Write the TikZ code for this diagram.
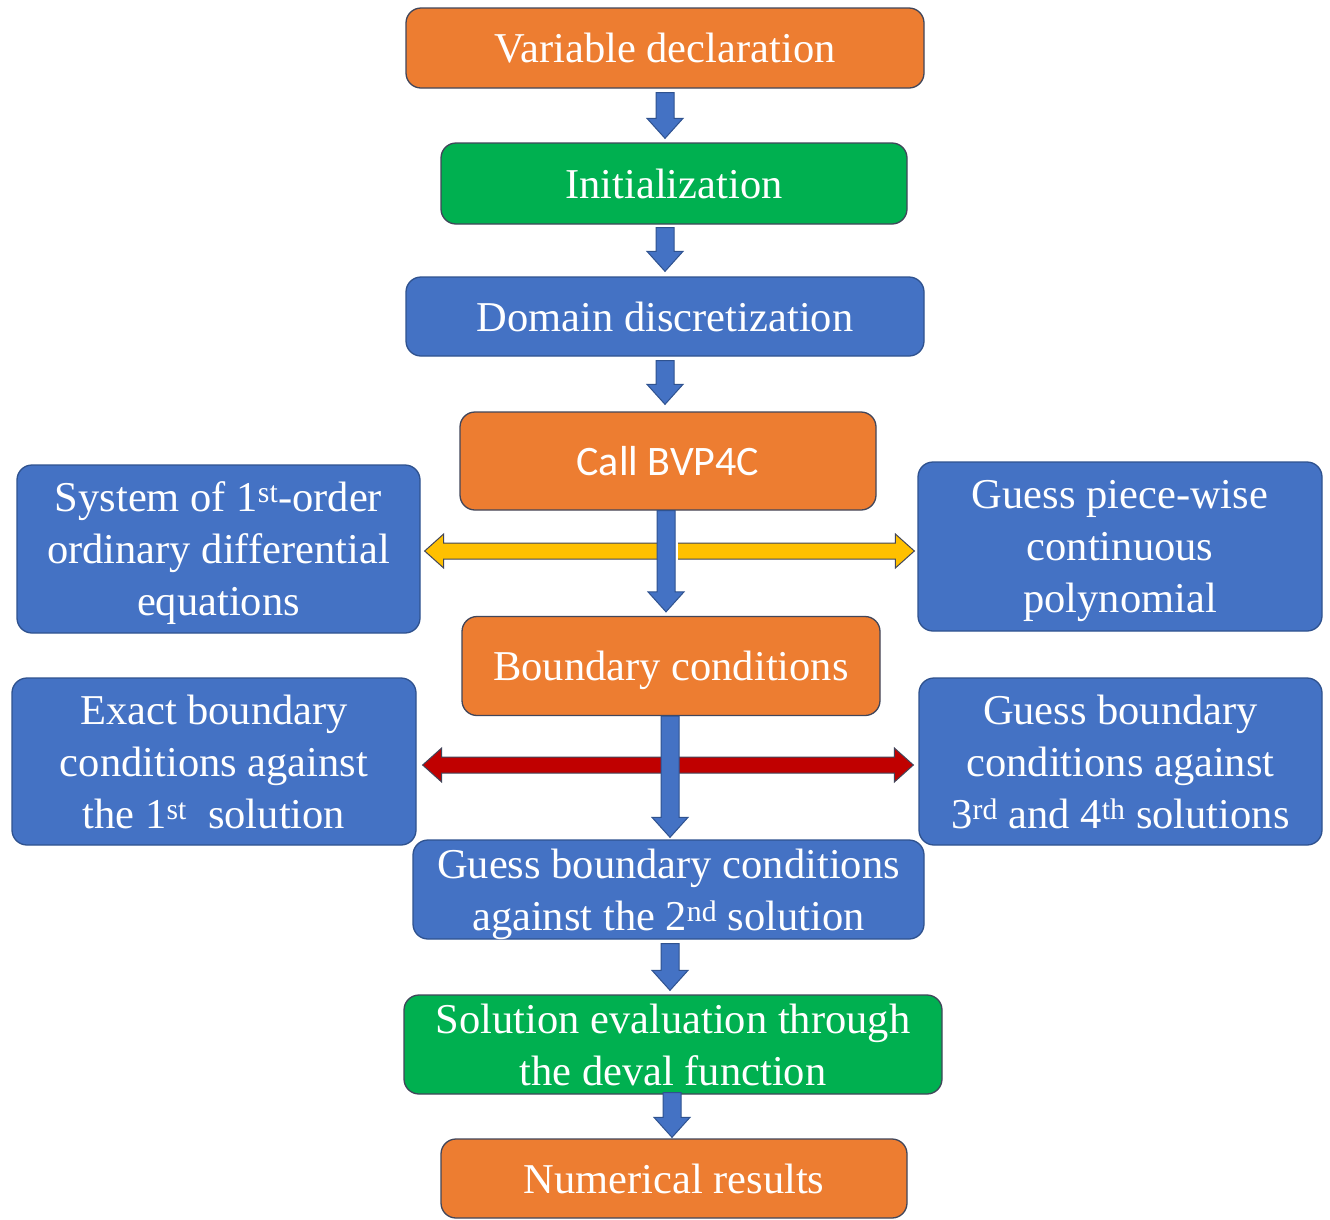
\documentclass[tikz,border=0pt]{standalone}
\usepackage{fontspec}
\setmainfont{Liberation Serif}
\newfontfamily\calibrifont{Carlito}
\usetikzlibrary{calc}
\definecolor{corange}{HTML}{ED7D31}
\definecolor{cgreen}{HTML}{00B050}
\definecolor{cblue}{HTML}{4472C4}
\definecolor{cyellow}{HTML}{FFC000}
\definecolor{cred}{HTML}{C00000}
\definecolor{bordgray}{HTML}{41465A}
\definecolor{bordblue}{HTML}{2F528F}
\tikzset{
  box/.style={rounded corners=15pt, line width=1.3pt, align=center, text=white,
    inner sep=0pt, font=\fontsize{42.5}{52}\selectfont},
  obox/.style={box, fill=corange, draw=bordgray},
  gbox/.style={box, fill=cgreen, draw=bordgray},
  bbox/.style={box, fill=cblue, draw=bordblue},
  blockline/.style={line width=1pt, draw=bordblue, line join=miter},
}
\newcommand\vblockarrow[3]{%
  \filldraw[blockline, fill=#1] let \p1=(#2), \p2=(#3) in
    (\x1-9pt,\y1) -- (\x1+9pt,\y1) -- (\x1+9pt,\y2+20pt) -- (\x1+18pt,\y2+20pt)
    -- (\x1,\y2) -- (\x1-18pt,\y2+20pt) -- (\x1-9pt,\y2+20pt) -- cycle;}
\newcommand\hdblockarrow[3]{%
  \filldraw[blockline, draw=bordgray, fill=#1] let \p1=(#2), \p2=(#3) in
    (\x1,\y1) -- (\x1+19pt,\y1+17pt) -- (\x1+19pt,\y1+8pt) -- (\x2-19pt,\y1+8pt)
    -- (\x2-19pt,\y1+17pt) -- (\x2,\y1) -- (\x2-19pt,\y1-17pt) -- (\x2-19pt,\y1-8pt)
    -- (\x1+19pt,\y1-8pt) -- (\x1+19pt,\y1-17pt) -- cycle;}
\begin{document}
\begin{tikzpicture}[x=1pt,y=1pt]
\useasboundingbox[fill=white] (0,0) rectangle (1330,-1219);

\node[obox, minimum width=518pt, minimum height=80pt] (var) at (665,-48) {Variable declaration};
\node[gbox, minimum width=466pt, minimum height=81pt, text depth=-3pt] (init) at (674,-183.5) {Initialization};
\node[bbox, minimum width=518pt, minimum height=79pt] (domain) at (665,-316.5) {Domain discretization};
\node[obox, minimum width=416pt, minimum height=98pt, font=\calibrifont\fontsize{42}{52}\selectfont] (call) at (668,-461) {Call BVP4C};
\node[bbox, minimum width=403pt, minimum height=168pt, text depth=1pt] (left1) at (218.5,-549)
  {System of 1\textsuperscript{st}-order\\ordinary differential\\equations};
\node[bbox, minimum width=404pt, minimum height=169pt, text depth=-5pt] (right1) at (1120,-546.5)
  {Guess piece-wise\\continuous\\polynomial};
\node[obox, minimum width=418pt, minimum height=99pt, text depth=0pt] (bc) at (671,-666) {Boundary conditions};
\node[bbox, minimum width=404pt, minimum height=167pt, text depth=-3pt] (left2) at (214,-761.5)
  {Exact boundary\\conditions against\\the 1\textsuperscript{st}\ \ solution};
\node[bbox, minimum width=403pt, minimum height=167pt, text depth=-3pt] (right2) at (1120.5,-761.5)
  {Guess boundary\\conditions against\\3\textsuperscript{rd} and 4\textsuperscript{th} solutions};
\node[bbox, minimum width=511pt, minimum height=99pt, text depth=-1pt] (guess2) at (668.5,-889.5)
  {Guess boundary conditions\\against the 2\textsuperscript{nd} solution};
\node[gbox, minimum width=538pt, minimum height=99pt, text depth=-4pt] (sol) at (673,-1044.5)
  {Solution evaluation through\\the deval function};
\node[obox, minimum width=466pt, minimum height=79pt, text depth=-8pt] (num) at (674,-1178.5) {Numerical results};

% vertical flow arrows
\vblockarrow{cblue}{$(var.south)+(0,-4)$}{$(init.north)+(0,4)$}
\vblockarrow{cblue}{$(domain.north|-init.south)+(0,-3)$}{$(domain.north)+(0,5)$}
\vblockarrow{cblue}{$(domain.south)+(0,-4)$}{$(call.north)+(0,7)$}
\vblockarrow{cblue}{$(guess2.south)+(1.5,-4)$}{$(sol.north)+(0,4)$}
\vblockarrow{cblue}{$(sol.south)+(-1,2)$}{$(num.north)+(0,1)$}

% side double arrows
\hdblockarrow{cyellow}{$(left1.east)+(4,-2)$}{$(right1.west)+(-3,0)$}
\hdblockarrow{cred}{$(left2.east)+(6,-3.5)$}{$(right2.west)+(-5,0)$}

% arrows over the side arrows
\fill[white] ($(call.south)+(7,-29)$) rectangle ($(call.south)+(10,-54)$);
\vblockarrow{cblue}{$(call.south)+(-2,0)$}{$(bc.north)+(0,4)$}
\vblockarrow{cblue}{$(bc.south)+(-1,0)$}{$(guess2.north)+(0,2)$}
\end{tikzpicture}
\end{document}
